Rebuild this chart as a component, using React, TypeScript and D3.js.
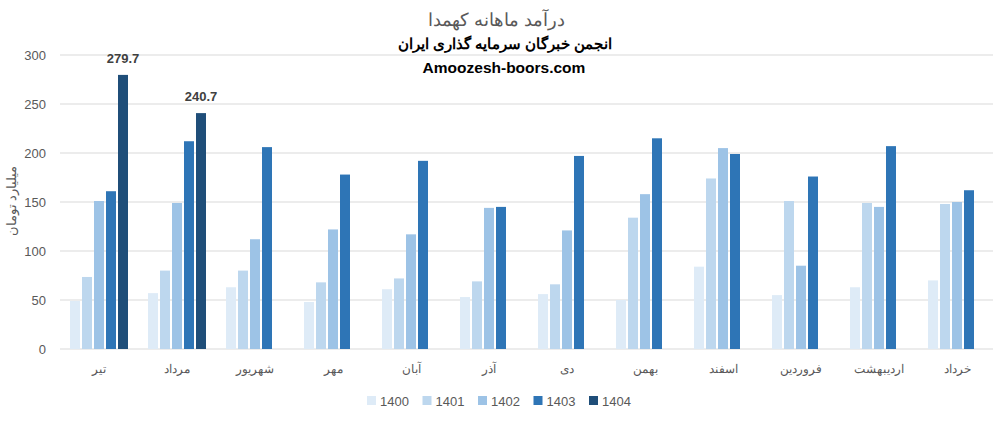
import React from 'react';
import * as d3 from 'd3';

const months = ['تیر', 'مرداد', 'شهریور', 'مهر', 'آبان', 'آذر', 'دی', 'بهمن', 'اسفند', 'فروردین', 'اردیبهشت', 'خرداد'];
const years = ['1400', '1401', '1402', '1403', '1404'];
const colors = ['#DEEBF7', '#BDD7EE', '#9DC3E6', '#2E75B6', '#1F4E79'];

// values per year, in month order (null = no data)
const v1400 = [49, 57, 63, 48, 61, 53, 56, 50, 84, 55, 63, 70];
const v1401 = [73.5, 80, 80, 68, 72, 69, 66, 134, 174, 151, 149, 148];
const v1402 = [151, 149, 112, 122, 117, 144, 121, 158, 205, 85, 145, 150];
const v1403 = [161, 212, 206, 178, 192, 145, 197, 215, 199, 176, 207, 162];
const v1404: (number | null)[] = [279.7, 240.7, null, null, null, null, null, null, null, null, null, null];
const seriesValues = [v1400, v1401, v1402, v1403, v1404];
const yTicks = [0, 50, 100, 150, 200, 250, 300];

const W = 1002;
const H = 423;
const margin = { top: 55, right: 6, bottom: 74, left: 60 };

export default function App() {
  const x0 = d3.scaleBand<string>().domain(months).range([margin.left, W - margin.right]);
  const x1 = d3.scaleBand<string>().domain(years).range([10, 68]).paddingInner(2 / 12);
  const y = d3.scaleLinear().domain([0, 300]).range([H - margin.bottom, margin.top]);
  const font = '"Liberation Sans", Arial, sans-serif';

  return (
    <svg width={W} height={H} style={{ position: 'absolute', left: 0, top: 0, background: '#fff' }} fontFamily={font}>
      <rect width={W} height={H} fill="#fff" />
      {/* titles */}
      <text x={497} y={26} textAnchor="middle" fontSize={18} fill="#595959">درآمد ماهانه کهمدا</text>
      <text x={505} y={49} textAnchor="middle" fontSize={14.5} fontWeight="bold" fill="#000">انجمن خبرگان سرمایه گذاری ایران</text>

      {/* grid */}
      {yTicks.map(t => (
        <g key={t}>
          <line x1={margin.left} x2={W - 9} y1={y(t)} y2={y(t)} stroke="#D9D9D9" strokeWidth={1} />
          <text x={46} y={y(t) + 5} textAnchor="end" fontSize={13} fill="#595959">{t}</text>
        </g>
      ))}

      <text x={504} y={73} textAnchor="middle" fontSize={15.5} fontWeight="bold" fill="#000">Amoozesh-boors.com</text>

      {/* bars */}
      {months.map((m, i) => (
        <g key={m} transform={`translate(${x0(m)},0)`}>
          {years.map((yr, s) => {
            const v = seriesValues[s][i];
            if (v == null) return null;
            return (
              <rect key={yr} x={x1(yr)} y={y(v)} width={x1.bandwidth()} height={y(0) - y(v)} fill={colors[s]} />
            );
          })}
          {v1404[i] != null && (
            <text x={(x1('1404') as number) + x1.bandwidth() / 2} y={y(v1404[i] as number) - 12}
              textAnchor="middle" fontSize={13} fontWeight="bold" fill="#404040">{(v1404[i] as number).toFixed(1)}</text>
          )}
          <text x={x0.bandwidth() / 2} y={373} textAnchor="middle" fontSize={12} fill="#595959">{m}</text>
        </g>
      ))}

      {/* y axis title */}
      <text transform={`translate(16,201) rotate(-90)`} textAnchor="middle" fontSize={13} fill="#595959">میلیارد تومان</text>

      {/* legend */}
      {years.map((yr, s) => (
        <g key={yr} transform={`translate(${367 + s * 55.5},396)`}>
          <rect x={0} y={0} width={9} height={9} fill={colors[s]} />
          <text x={13} y={9.5} fontSize={13} fill="#595959">{yr}</text>
        </g>
      ))}
    </svg>
  );
}
